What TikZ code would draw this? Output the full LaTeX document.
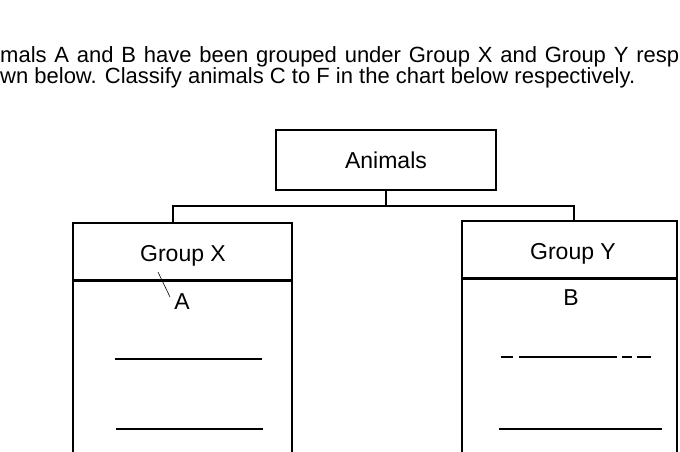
\documentclass[tikz,border=0pt]{standalone}
\usepackage{fontspec}
\setmainfont{Liberation Sans}
\begin{document}
\begin{tikzpicture}[x=1pt,y=-1pt,
  txt/.style={font=\fontsize{22}{24}\selectfont, inner sep=0pt},
  boxline/.style={draw=black, line width=1.4pt},
  hdr/.style={boxline, rectangle, inner sep=0pt, font=\fontsize{23}{26}\selectfont, text height=16.5pt, text depth=0pt},
  lbl/.style={inner sep=0pt, font=\fontsize{23}{26}\selectfont, text height=16.5pt, text depth=0pt},
  ansline/.style={draw=black, line width=2pt},
  conn/.style={draw=black, line width=1.4pt}]
\useasboundingbox (0,0) rectangle (680,451);
\clip (0,0) rectangle (680,451);
\fill[white] (0,0) rectangle (680,451);
% instructions
\node[txt, anchor=base west] (l1) at (0,62) {\makebox[679pt][s]{mals A and B have been grouped under Group X and Group Y resp}};
\node[txt, anchor=base west] (l2) at (0,83) {wn below. Classify animals C to F in the chart below respectively.};
% top box
\node[hdr, minimum width=220pt, minimum height=60pt] (animals) at (386,160) {Animals};
% group X
\node[hdr, minimum width=219pt, minimum height=57pt] (gx) at (182.5,251.5) {};
\node[lbl] (gxt) at (183,253) {Group X};
\node[boxline, rectangle, minimum width=219pt, minimum height=200pt, anchor=north] (bx) at (gx.south) {};
% group Y
\node[hdr, minimum width=215pt, minimum height=57pt] (gy) at (569.5,249.5) {};
\node[lbl] (gyt) at (573,251) {Group Y};
\node[boxline, rectangle, minimum width=215pt, minimum height=200pt, anchor=north] (by) at (gy.south) {};
% connectors
\coordinate (jl) at (173,206);
\coordinate (jr) at (574,206);
\draw[conn] (animals.south) -- (animals.south |- jl);
\draw[conn] (jl |- gx.north) -- (jl) -- (jr) -- (jr |- gy.north);
% contents
\node[lbl] (a) at (182,301) {A};
\node[lbl] (b) at (571,297) {B};
\coordinate (s1) at (158,272);
\coordinate (s2) at (170,297);
\draw[black, line width=0.6pt] (s1) -- (s2);
% answer lines left
\coordinate (p1) at (115,359); \coordinate (p2) at (262,359);
\coordinate (p3) at (116,429); \coordinate (p4) at (263,429);
\draw[ansline] (p1) -- (p2);
\draw[ansline] (p3) -- (p4);
% answer lines right
\coordinate (q1) at (501,357); \coordinate (q2) at (513,357);
\coordinate (q3) at (519,357); \coordinate (q4) at (617,357);
\coordinate (q5) at (622,357); \coordinate (q6) at (632,357);
\coordinate (q7) at (637,357); \coordinate (q8) at (651,357);
\draw[ansline] (q1) -- (q2);
\draw[ansline] (q3) -- (q4);
\draw[ansline] (q5) -- (q6);
\draw[ansline] (q7) -- (q8);
\coordinate (q9) at (499,429); \coordinate (q10) at (662,429);
\draw[ansline] (q9) -- (q10);
\end{tikzpicture}
\end{document}
